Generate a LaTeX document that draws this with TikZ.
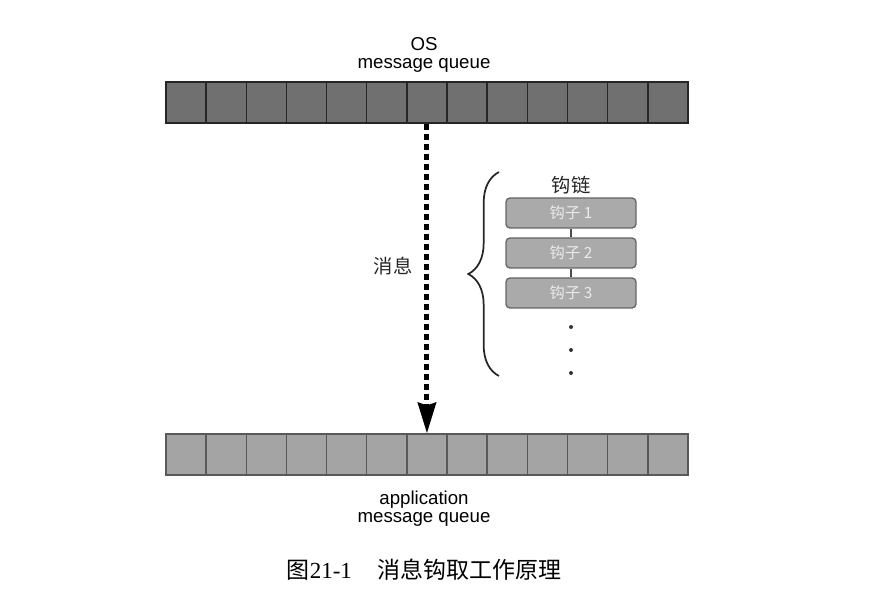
\documentclass[tikz,border=0pt]{standalone}
\usepackage{fontspec}
\setmainfont{Liberation Sans}
\newfontfamily\cjk{Noto Sans CJK SC}
\newfontfamily\capfont{Liberation Serif}
\usepackage{xcolor}
\usetikzlibrary{arrows.meta,decorations.pathreplacing}
\definecolor{osgray}{HTML}{707070}
\definecolor{appgray}{HTML}{A4A4A4}
\definecolor{hookgray}{HTML}{AAAAAA}

\begin{document}
\begin{tikzpicture}[x=0.75pt, y=-0.75pt,
    oscell/.style={rectangle, draw=black!85, line width=1.1pt, fill=osgray, minimum width=30.1pt, minimum height=30.5pt, inner sep=0pt},
    appcell/.style={rectangle, draw=black!65, line width=1.1pt, fill=appgray, minimum width=30.1pt, minimum height=30.5pt, inner sep=0pt},
    hook/.style={rectangle, rounded corners=3pt, draw=black!60, line width=1pt, fill=hookgray, minimum width=97.5pt, minimum height=22.5pt, inner sep=0pt, text=black!8, font=\cjk\fontsize{11.5}{12}\selectfont},
    qlabel/.style={align=center, inner sep=0pt, font=\fontsize{14}{13.5}\selectfont},
    cjklabel/.style={inner sep=0pt, text=black!85, font=\cjk\fontsize{14.5}{15}\selectfont},
    hookdot/.style={circle, fill=black!80, minimum size=3pt, inner sep=0pt}]

    \useasboundingbox (0,0) rectangle (885,605);

    \foreach \i in {1,...,13} {
        \node[oscell] (os\i) at ({145.9+40.15*\i},102.5) {};
        \node[appcell] (app\i) at ({145.9+40.15*\i},454.5) {};
    }

    \node[qlabel] (oslabel) at (424,55) {OS\\message queue};
    \node[qlabel] (applabel) at (424,509) {application\\message queue};

    \draw[line width=3.75pt, dash pattern=on 4.5pt off 3pt, -{Stealth[length=23pt, width=13.5pt, inset=2pt]}] (os7.south) -- (app7.north);
    \node[cjklabel] (msg) at (393,266) {消息};

    \node[cjklabel] (chain) at (571,185) {钩链};
    \node[hook] (hook1) at (571,213) {钩子 1};
    \node[hook] (hook2) at (571,253) {钩子 2};
    \node[hook] (hook3) at (571,293) {钩子 3};
    \draw[black!70, line width=0.8pt] (hook1) -- (hook2) (hook2) -- (hook3);

    \foreach \y [count=\k] in {327,350,373}
        \node[hookdot] (dot\k) at (571,\y) {};

    \coordinate (bracetop) at (499,172);
    \coordinate (bracebot) at (499,376);
    \draw[black!85, line width=1.3pt, decorate, decoration={brace, amplitude=23pt}] (bracebot) -- (bracetop);

    \node[inner sep=0pt, font=\fontsize{17.25}{18}\selectfont] (caption) at (424,570) {{\cjk 图}{\capfont 21-1}\hspace{1.1em}{\cjk 消息钩取工作原理}};

\end{tikzpicture}
\end{document}
